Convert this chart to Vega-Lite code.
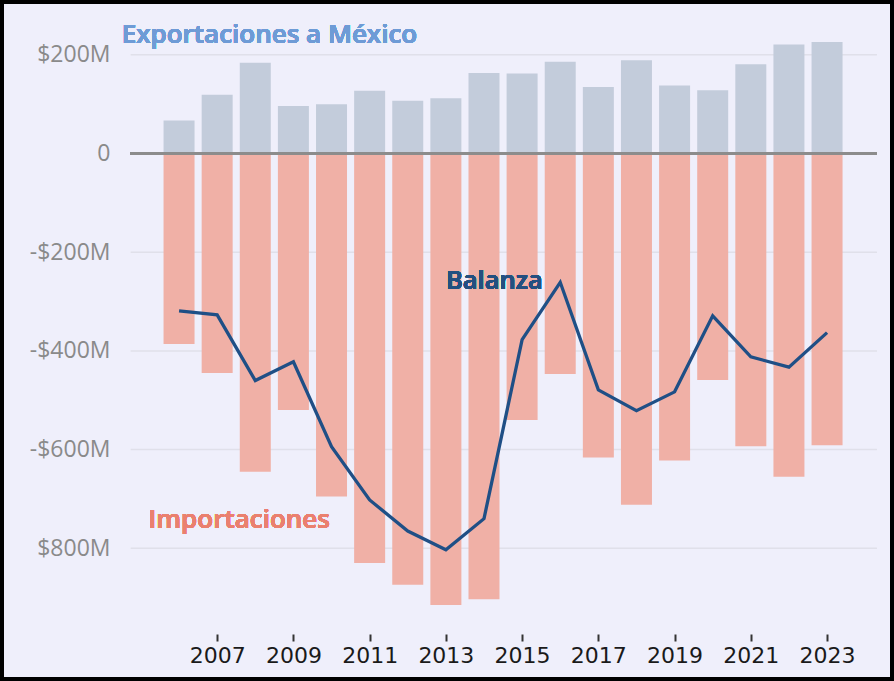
{
  "$schema": "https://vega.github.io/schema/vega-lite/v6.json",
  "width": 894,
  "height": 681,
  "autosize": {"type": "none"},
  "padding": 0,
  "background": "#efeffb",
  "config": {
    "view": {"stroke": "#000000", "strokeWidth": 8, "fill": "#efeffb"},
    "axisX": {
      "orient": "bottom", "offset": -47, "domain": false, "grid": false,
      "ticks": true, "tickSize": 7, "tickWidth": 2, "tickColor": "#333333",
      "labelFont": "DejaVu Sans", "labelFontSize": 22, "labelColor": "#1a1a1a", "labelPadding": 4,
      "title": null
    },
    "axisY": {
      "orient": "left", "offset": -127, "domain": false, "grid": false, "ticks": false,
      "labelFont": "Open Sans", "labelFontSize": 23, "labelColor": "#8a8a8a", "labelPadding": 17,
      "title": null
    }
  },
  "data": {
    "values": [
      {"year": 2006, "exports": 67, "imports": -386, "balance": -319},
      {"year": 2007, "exports": 119, "imports": -445, "balance": -327},
      {"year": 2008, "exports": 184, "imports": -645, "balance": -460},
      {"year": 2009, "exports": 96, "imports": -520, "balance": -422},
      {"year": 2010, "exports": 100, "imports": -695, "balance": -594},
      {"year": 2011, "exports": 127, "imports": -830, "balance": -702},
      {"year": 2012, "exports": 107, "imports": -874, "balance": -765},
      {"year": 2013, "exports": 112, "imports": -915, "balance": -803},
      {"year": 2014, "exports": 163, "imports": -903, "balance": -740},
      {"year": 2015, "exports": 162, "imports": -540, "balance": -377},
      {"year": 2016, "exports": 186, "imports": -447, "balance": -261},
      {"year": 2017, "exports": 135, "imports": -616, "balance": -479},
      {"year": 2018, "exports": 189, "imports": -712, "balance": -521},
      {"year": 2019, "exports": 138, "imports": -622, "balance": -483},
      {"year": 2020, "exports": 128, "imports": -459, "balance": -329},
      {"year": 2021, "exports": 181, "imports": -593, "balance": -412},
      {"year": 2022, "exports": 221, "imports": -655, "balance": -433},
      {"year": 2023, "exports": 226, "imports": -591, "balance": -363}
    ]
  },
  "layer": [
    {
      "data": {"values": [{"v": 200}, {"v": -200}, {"v": -400}, {"v": -600}, {"v": -800}]},
      "mark": {"type": "rule", "color": "#e0e0ea", "strokeWidth": 1.5},
      "encoding": {
        "x": {"datum": 2004.73, "type": "quantitative", "scale": {"domain": [2001.434, 2024.625], "nice": false, "zero": false},
              "axis": {"values": [2007, 2009, 2011, 2013, 2015, 2017, 2019, 2021, 2023], "format": "d"}, "title": null},
        "x2": {"datum": 2024.31},
        "y": {"field": "v", "type": "quantitative", "scale": {"domain": [-1068.9, 311.04], "nice": false, "zero": false},
              "axis": {"values": [200, 0, -200, -400, -600, -800],
                       "labelExpr": "datum.value == 0 ? '0' : datum.value == -800 ? '$800M' : (datum.value < 0 ? '-$' : '$') + abs(datum.value) + 'M'"},
              "title": null}
      }
    },
    {
      "mark": {"type": "bar", "color": "#c3ccdb", "width": 31},
      "encoding": {
        "x": {"field": "year", "type": "quantitative", "title": null},
        "y": {"field": "exports", "type": "quantitative", "title": null},
        "y2": {"datum": 0}
      }
    },
    {
      "mark": {"type": "bar", "color": "#f0b0a6", "width": 31},
      "encoding": {
        "x": {"field": "year", "type": "quantitative", "title": null},
        "y": {"field": "imports", "type": "quantitative", "title": null},
        "y2": {"datum": 0}
      }
    },
    {
      "mark": {"type": "rule", "color": "#8c8c8c", "strokeWidth": 2},
      "encoding": {
        "x": {"datum": 2004.73, "type": "quantitative"},
        "x2": {"datum": 2024.31},
        "y": {"datum": 0, "type": "quantitative"}
      }
    },
    {
      "mark": {"type": "line", "color": "#1f4f86", "strokeWidth": 3.3},
      "encoding": {
        "x": {"field": "year", "type": "quantitative", "title": null},
        "y": {"field": "balance", "type": "quantitative", "title": null}
      }
    },
    {
      "mark": {"type": "text", "text": "Exportaciones a México", "font": "Open Sans", "fontWeight": 600, "fontSize": 26, "color": "#6e9bd6", "align": "left", "baseline": "alphabetic"},
      "encoding": {
        "x": {"datum": 2004.495, "type": "quantitative"},
        "y": {"datum": 223.9, "type": "quantitative"}
      }
    },
    {
      "mark": {"type": "text", "text": "Importaciones", "font": "Open Sans", "fontWeight": 600, "fontSize": 26, "color": "#ea806f", "align": "left", "baseline": "alphabetic"},
      "encoding": {
        "x": {"datum": 2005.195, "type": "quantitative"},
        "y": {"datum": -759.5, "type": "quantitative"}
      }
    },
    {
      "mark": {"type": "text", "text": "Balanza", "font": "Open Sans", "fontWeight": 600, "fontSize": 25.5, "color": "#244f80", "align": "left", "baseline": "alphabetic"},
      "encoding": {
        "x": {"datum": 2013.003, "type": "quantitative"},
        "y": {"datum": -274.6, "type": "quantitative"}
      }
    }
  ]
}
